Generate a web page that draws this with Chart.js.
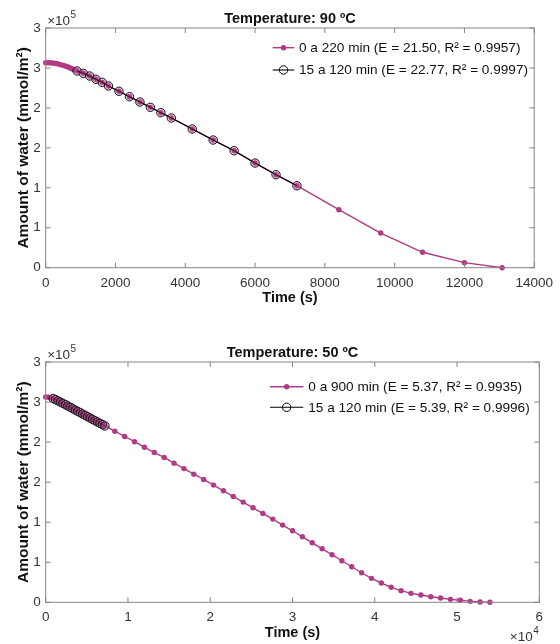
<!DOCTYPE html>
<html><head><meta charset="utf-8">
<script src="https://cdn.jsdelivr.net/npm/chart.js@4.4.1/dist/chart.umd.min.js"></script>
<style>
html,body{margin:0;padding:0;background:#fff;}
#wrap{position:relative;width:560px;height:644px;overflow:hidden;}
.c{position:absolute;left:0;width:560px;height:322px;}
</style></head><body>
<div id="wrap">
<div class="c" style="top:0"><canvas id="c1" width="560" height="322"></canvas></div>
<div class="c" style="top:322px"><canvas id="c2" width="560" height="322"></canvas></div>
</div>
<script>
// ---------- DATA ----------
const yAxisTitle = 'Amount of water (mmol/m²)';
const xAxisTitle = 'Time (s)';
const yTickValues = [0, 50000, 100000, 150000, 200000, 250000, 300000];
const yTickLabels = ['0', '1', '1', '2', '2', '3', '3'];

// Top panel: 90 ºC
const topTitle = 'Temperature: 90 ºC';
const topLegend = ['0 a 220 min (E = 21.50, R² = 0.9957)', '15 a 120 min (E = 22.77, R² = 0.9997)'];
const topXTickValues = [0, 2000, 4000, 6000, 8000, 10000, 12000, 14000];
const topXTickLabels = ['0', '2000', '4000', '6000', '8000', '10000', '12000', '14000'];
const topTimeAll = [0,60,120,180,240,300,360,420,480,540,600,660,720,780,840,
  900,1080,1260,1440,1620,1800,2100,2400,2700,3000,3300,3600,4200,4800,5400,6000,6600,7200,
  8400,9600,10800,12000,13080];
const topWaterAll = [256600,256600,256500,256300,256000,255500,254900,254200,253500,252700,251800,250800,249700,248500,247300,
  246200,243300,239900,235800,232000,227400,220800,214000,207400,200700,194000,187400,173600,159800,146400,131000,116400,102600,
  72600,43400,19300,6300,0];
const topTimeFit = [900,1080,1260,1440,1620,1800,2100,2400,2700,3000,3300,3600,4200,4800,5400,6000,6600,7200];
const topWaterFit = [246200,243300,239900,235800,232000,227400,220800,214000,207400,200700,194000,187400,173600,159800,146400,131000,116400,102600];

// Bottom panel: 50 ºC
const botTitle = 'Temperature: 50 ºC';
const botLegend = ['0 a 900 min (E = 5.37, R² = 0.9935)', '15 a 120 min (E = 5.39, R² = 0.9996)'];
const botXTickValues = [0, 10000, 20000, 30000, 40000, 50000, 60000];
const botXTickLabels = ['0', '1', '2', '3', '4', '5', '6'];
const botTimeAll = [0,300,600,900,1200,1500,1800,2100,2400,2700,3000,3300,3600,3900,4200,4500,4800,5100,5400,5700,6000,6300,6600,6900,7200,
  8400,9600,10800,12000,13200,14400,15600,16800,18000,19200,20400,21600,22800,24000,25200,26400,27600,28800,30000,31200,
  32400,33600,34800,36000,37200,38400,39600,40800,42000,43200,44400,45600,46800,48000,49200,50400,51600,52800,54000];
const botWaterAll = [256400,256100,255400,254400,253000,251500,249900,248300,246700,245000,243400,241700,240000,238400,236700,235000,233400,231700,230000,228400,226700,225100,223400,221800,220200,
  213600,207000,200500,193600,187000,180800,173700,166900,160000,153400,146300,139200,132200,125100,118000,111000,103900,96400,89300,81800,
  74300,66800,59400,51900,44400,36900,29900,24100,18700,14500,11200,9100,7000,5400,3700,2500,1200,400,0];
const botTimeFit = [900,1200,1500,1800,2100,2400,2700,3000,3300,3600,3900,4200,4500,4800,5100,5400,5700,6000,6300,6600,6900,7200];
const botWaterFit = [254400,253000,251500,249900,248300,246700,245000,243400,241700,240000,238400,236700,235000,233400,231700,230000,228400,226700,225100,223400,221800,220200];

// ---------- STYLE ----------
const FONT = "'Liberation Sans', Arial, Helvetica, sans-serif";
const MAGENTA = '#B23A85';
const AXIS = '#858585';
const TICKTXT = '#333333';
const TXT = '#111111';

const matlabPlugin = {
  id: 'matlab',
  afterDraw(chart, args, o) {
    const {ctx, chartArea: a, scales: {x, y}} = chart;
    ctx.save();
    ctx.strokeStyle = AXIS; ctx.lineWidth = 1;
    ctx.strokeRect(a.left, a.top, a.right - a.left, a.bottom - a.top);
    const TL = 5;
    ctx.beginPath();
    o.xTicks.forEach(v => {
      const p = x.getPixelForValue(v);
      ctx.moveTo(p, a.bottom); ctx.lineTo(p, a.bottom - TL);
      ctx.moveTo(p, a.top); ctx.lineTo(p, a.top + TL);
    });
    yTickValues.forEach(v => {
      const p = y.getPixelForValue(v);
      ctx.moveTo(a.left, p); ctx.lineTo(a.left + TL, p);
      ctx.moveTo(a.right, p); ctx.lineTo(a.right - TL, p);
    });
    ctx.stroke();
    // exponents
    const drawExp = (e) => {
      ctx.fillStyle = TICKTXT;
      ctx.textBaseline = 'middle'; ctx.textAlign = 'left';
      ctx.font = '13.5px ' + FONT;
      ctx.fillText('×10', e.x, e.y);
      const w = ctx.measureText('×10').width;
      ctx.font = '10px ' + FONT;
      ctx.fillText(e.p, e.x + w + 0.5, e.y - 6);
    };
    drawExp({x: a.left + 1.5, y: a.top - 7, p: o.yExp});
    if (o.xExp) drawExp({x: a.right - 29.5, y: a.bottom + 35, p: o.xExp});
    // legend
    const L = o.legend;
    L.labels.forEach((lab, i) => {
      const yy = L.rows[i];
      ctx.lineWidth = i === 0 ? 1.4 : 1.1;
      ctx.strokeStyle = i === 0 ? MAGENTA : '#000';
      ctx.beginPath(); ctx.moveTo(L.x1, yy); ctx.lineTo(L.x2, yy); ctx.stroke();
      const mx = (L.x1 + L.x2) / 2;
      ctx.beginPath();
      if (i === 0) { ctx.fillStyle = MAGENTA; ctx.arc(mx, yy, 2.7, 0, Math.PI * 2); ctx.fill(); }
      else { ctx.lineWidth = 1; ctx.arc(mx, yy, 4.2, 0, Math.PI * 2); ctx.stroke(); }
      ctx.fillStyle = TXT; ctx.font = '13.6px ' + FONT;
      ctx.textAlign = 'left'; ctx.textBaseline = 'middle';
      ctx.fillText(lab, L.tx, yy + 0.5);
    });
    ctx.restore();
  }
};

function makeChart(id, cfg) {
  const pts = (t, w) => t.map((v, i) => ({x: v, y: w[i]}));
  return new Chart(document.getElementById(id), {
    type: 'scatter',
    data: {
      datasets: [
        { label: cfg.legend[1], data: pts(cfg.tFit, cfg.wFit), showLine: true,
          borderColor: '#000', borderWidth: 1.1, pointRadius: 4.2, pointHoverRadius: 4.2,
          pointBorderColor: '#111', pointBorderWidth: 1, pointBackgroundColor: 'rgba(190,80,150,0.28)',
          clip: false, tension: 0 },
        { label: cfg.legend[0], data: pts(cfg.tAll, cfg.wAll), showLine: true,
          borderColor: MAGENTA, borderWidth: 1.4, pointRadius: 2.7, pointHoverRadius: 2.7,
          pointBorderWidth: 0, pointBackgroundColor: MAGENTA, pointBorderColor: MAGENTA,
          clip: false, tension: 0 }
      ]
    },
    options: {
      responsive: false, animation: false, events: [],
      layout: { padding: { left: 0, right: 20.7, top: 0, bottom: cfg.padBottom } },
      plugins: {
        legend: { display: false }, tooltip: { enabled: false },
        title: { display: true, text: cfg.title, fullSize: false, color: TXT,
          font: { family: FONT, size: 14.5, weight: 'bold', lineHeight: 1.2 },
          padding: { top: cfg.titleTop, bottom: cfg.titleBottom } },
        matlab: { xTicks: cfg.xTicks, yExp: '5', xExp: cfg.xExp, legend: cfg.legendPos }
      },
      scales: {
        x: {
          type: 'linear', min: cfg.xTicks[0], max: cfg.xTicks[cfg.xTicks.length - 1],
          afterBuildTicks: s => { s.ticks = cfg.xTicks.map(v => ({value: v})); },
          afterFit: s => { s.height = 39.4; },
          ticks: { callback: (v, i) => cfg.xLabels[i], autoSkip: false, maxRotation: 0, padding: 7,
            color: TICKTXT, font: { family: FONT, size: 13.5 } },
          grid: { display: false, drawTicks: false }, border: { display: false },
          title: { display: true, text: xAxisTitle, color: TXT, padding: { top: 0, bottom: 0 },
            font: { family: FONT, size: 14.5, weight: 'bold', lineHeight: 1.2 } }
        },
        y: {
          type: 'linear', min: 0, max: 300000,
          afterBuildTicks: s => { s.ticks = yTickValues.map(v => ({value: v})); },
          afterFit: s => { s.width = 45.7; },
          ticks: { callback: (v, i) => yTickLabels[i], autoSkip: false, padding: 5,
            color: TICKTXT, font: { family: FONT, size: 13.5 } },
          grid: { display: false, drawTicks: false }, border: { display: false },
          title: { display: true, text: yAxisTitle, color: TXT, padding: { top: 14, bottom: 0 },
            font: { family: FONT, size: 15.5, weight: 'bold', lineHeight: 1.2 } }
        }
      }
    },
    plugins: [matlabPlugin]
  });
}

makeChart('c1', {
  title: topTitle, legend: topLegend, tAll: topTimeAll, wAll: topWaterAll, tFit: topTimeFit, wFit: topWaterFit,
  xTicks: topXTickValues, xLabels: topXTickLabels, xExp: null,
  titleTop: 9.9, titleBottom: 0.7, padBottom: 14.9,
  legendPos: { labels: topLegend, rows: [47.7, 70], x1: 272.7, x2: 294.3, tx: 299 }
});
makeChart('c2', {
  title: botTitle, legend: botLegend, tAll: botTimeAll, wAll: botWaterAll, tFit: botTimeFit, wFit: botWaterFit,
  xTicks: botXTickValues, xLabels: botXTickLabels, xExp: '4',
  titleTop: 22.6, titleBottom: 0, padBottom: 2.3,
  legendPos: { labels: botLegend, rows: [64.7, 85.3], x1: 270, x2: 303.3, tx: 308.3 }
});
</script>
</body></html>
